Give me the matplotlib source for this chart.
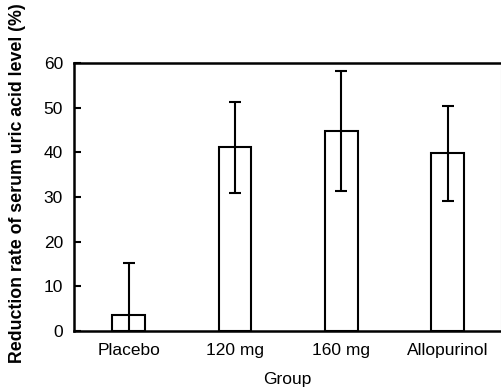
import matplotlib
matplotlib.use('Agg')
import matplotlib.pyplot as plt
import numpy as np

plt.rcParams['font.family'] = ['Liberation Sans', 'DejaVu Sans']

# Values
groups = ['Placebo', '120 mg', '160 mg', 'Allopurinol']
reduction = [3.6, 41.1, 44.7, 39.8]
sd = [11.7, 10.1, 13.4, 10.6]

fig = plt.figure(figsize=(5.01, 3.91), dpi=100)
ax = fig.add_axes([0.1477, 0.1535, 0.852, 0.6854])

x = np.arange(len(groups))
ax.bar(x, reduction, width=0.31, color='white', edgecolor='black', linewidth=1.5,
       yerr=sd, error_kw=dict(ecolor='black', elinewidth=1.5, capsize=4.3, capthick=1.5))

ax.set_xlim(-0.514, 3.5)
ax.set_ylim(0, 60)
ax.set_yticks(range(0, 61, 10))
ax.set_xticks(x)
ax.set_xticklabels(groups, fontsize=12.5)
ax.tick_params(axis='y', direction='in', length=5, width=1.5, labelsize=12.5, pad=8)
ax.tick_params(axis='x', length=0, pad=9)
for s in ax.spines.values():
    s.set_linewidth(1.8)
ax.spines['right'].set_linewidth(0.8)
ax.spines['right'].set_color('#bbbbbb')

ax.set_xlabel('Group', fontsize=12.5, labelpad=10)
# y label sits off-centre in the reference (runs to the top edge)
fig.text(18 / 501, 1 - 183 / 391, 'Reduction rate of serum uric acid level (%)',
         rotation=90, ha='center', va='center', fontsize=12.8, fontweight='bold')

fig.savefig('out.png', dpi=100)
